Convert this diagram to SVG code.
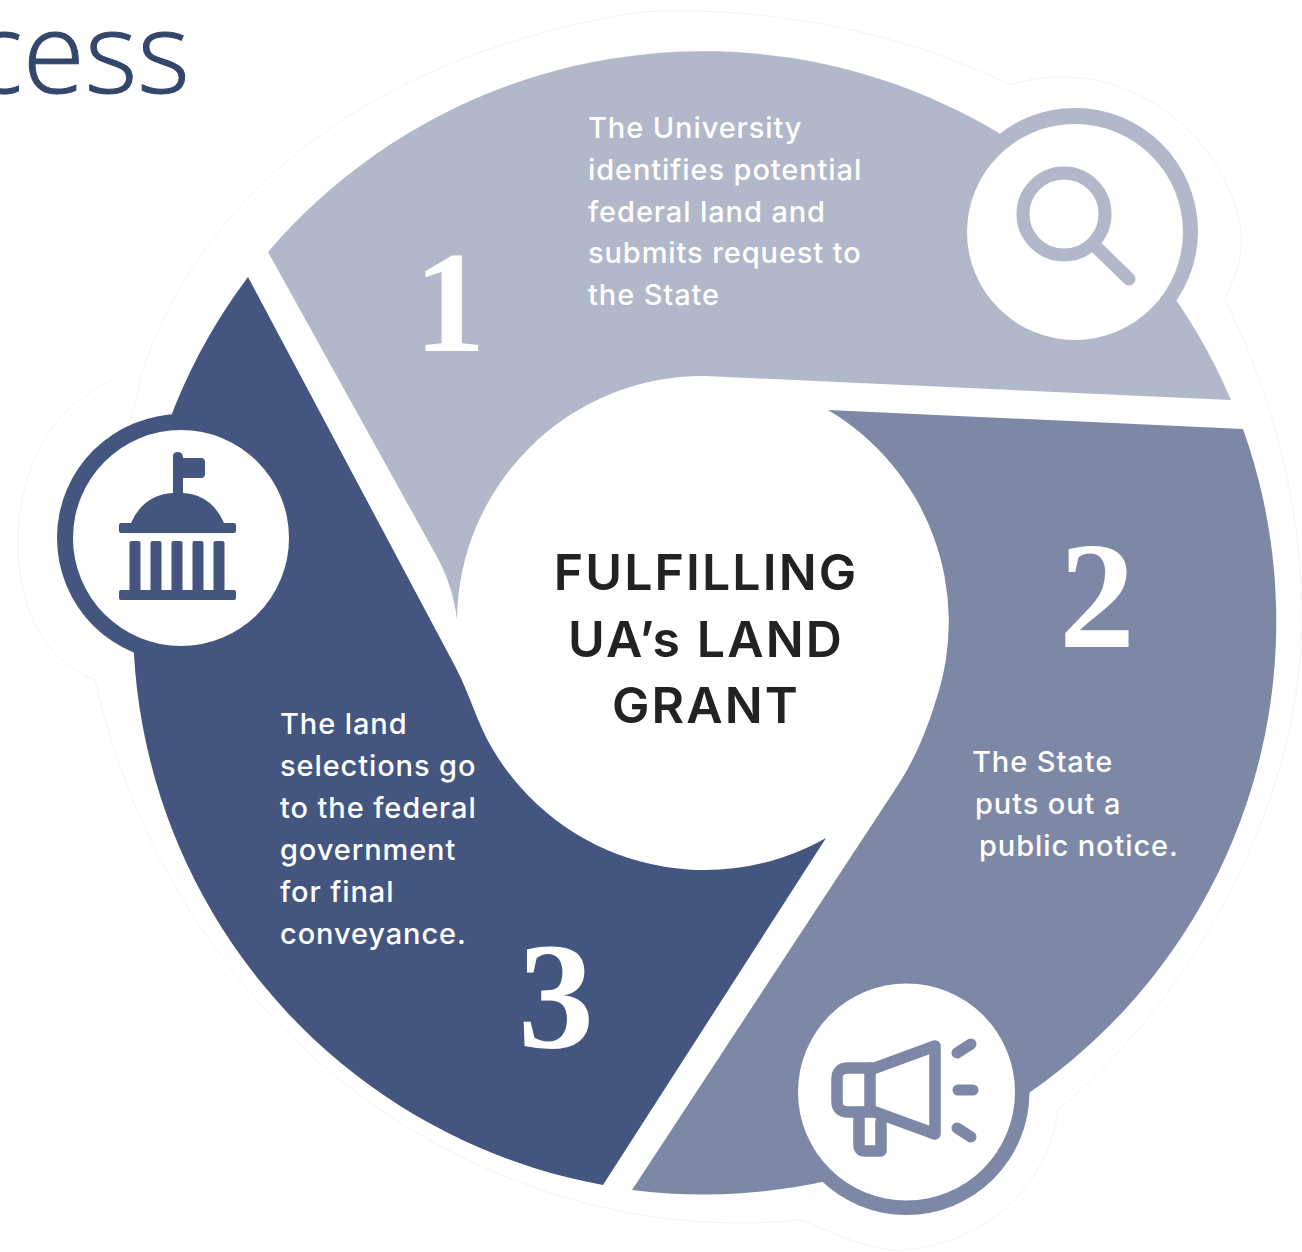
<svg xmlns="http://www.w3.org/2000/svg" width="1302" height="1252" viewBox="0 0 1302 1252">
<style>
.body{font-family:"Inter","Liberation Sans",sans-serif;font-size:29px;font-weight:500;letter-spacing:.9px;fill:#fff}
.num{font-family:"Liberation Serif",serif;font-weight:700;fill:#fff}
.center{font-family:"Inter","Liberation Sans",sans-serif;font-size:50px;font-weight:600;letter-spacing:2.1px;fill:#222;text-anchor:middle}
.hole{fill:#fff}
</style>
<rect width="1302" height="1252" fill="#fff"/>
<text id="title" x="190" y="93" text-anchor="end" font-family="'Open Sans','Noto Sans',sans-serif" font-weight="300" font-size="113" fill="#33466b" stroke="#33466b" stroke-width="1">cess</text>
<path id="halo" d="M112,462 C135,415 138,392 140,378 C190,220 340,60 640,12 C760,5 900,30 1010,85 C1100,55 1210,110 1238,215 C1250,265 1225,290 1225,300 C1270,390 1302,500 1302,620 C1300,800 1200,990 1058,1110 C1050,1180 990,1245 900,1250 C860,1250 820,1225 800,1220 C500,1250 180,1050 95,680 C40,660 15,600 18,530 C25,440 70,400 112,380" fill="none" stroke="#f3f3f3" stroke-width="1"/>
<g id="step-1">
<path fill="#b1b8c9" d="M268,252 A573,573 0 0 1 1231,400 L705,376 A246,246 0 0 0 457,620 C454,595 447,575 436,555 Z"/>
<circle cx="1075" cy="231" r="123" fill="#b1b8c9"/>
<circle class="hole" cx="1075" cy="232" r="108"/>
<g fill="none" stroke="#b1b8c9" stroke-width="13">
<circle cx="1064" cy="214" r="41"/>
<path d="M1094,245 L1129,279" stroke-linecap="round"/>
</g>
<text class="num" font-size="143" x="414" y="351">1</text>
<text class="body"><tspan x="588" y="138">The University</tspan><tspan x="588" y="179.800">identifies potential</tspan><tspan x="588" y="221.600">federal land and</tspan><tspan x="588" y="263.400">submits request to</tspan><tspan x="588" y="305.200">the State</tspan></text>
</g>
<g id="step-2">
<path fill="#7d88a6" d="M828,410 L1243,429 A573,573 0 0 1 632,1190 L900,782 C915,758 927,730 936,700 A246,246 0 0 0 828,410 Z"/>
<circle cx="906.500" cy="1092" r="123" fill="#7d88a6"/>
<circle class="hole" cx="906.500" cy="1092" r="108.500"/>
<g fill="none" stroke="#7d88a6" stroke-width="11.500" stroke-linejoin="round" stroke-linecap="round">
<path d="M875,1068 L935,1046 V1134 L875,1112 H848 Q837,1112 837,1101 V1079 Q837,1068 848,1068 Z"/>
<path d="M870,1068 V1112"/>
<path d="M859,1112 V1145 Q859,1151 865,1151 H881 V1122"/>
<path d="M957,1053 L971,1044 M958,1090 H973 M957,1128 L971,1137" stroke-width="11"/>
</g>
<text class="num" font-size="152" x="1059" y="647">2</text>
<text class="body"><tspan x="972" y="772">The State</tspan><tspan x="975" y="814">puts out a</tspan><tspan x="979" y="855.500">public notice.</tspan></text>
</g>
<g id="step-3">
<path fill="#445680" d="M248,277 L456,668 C470,695 478,725 492,748 A246,246 0 0 0 826,838 L603,1185 A573,573 0 0 1 248,277 Z"/>
<circle cx="181" cy="538" r="124" fill="#445680"/>
<circle class="hole" cx="181" cy="538" r="108"/>
<g fill="#445680">
<path d="M173,456 Q173,452 178,452 Q183,452 183,458 H201 Q205,458 205,462 V474 Q205,478 201,478 H183 V493 Q212,495 224,523 H131 Q143,495 173,493 Z"/>
<rect x="119" y="523" width="117" height="10" rx="2"/>
<rect x="129.500" y="541" width="11" height="52" rx="2"/>
<rect x="150.500" y="541" width="11" height="52" rx="2"/>
<rect x="171.500" y="541" width="11" height="52" rx="2"/>
<rect x="192.500" y="541" width="11" height="52" rx="2"/>
<rect x="213.500" y="541" width="11" height="52" rx="2"/>
<rect x="119" y="590" width="117" height="10" rx="2"/>
</g>
<text class="num" font-size="152" x="518" y="1048">3</text>
<text class="body"><tspan x="280" y="734">The land</tspan><tspan x="280" y="776">selections go</tspan><tspan x="280" y="818">to the federal</tspan><tspan x="280" y="860">government</tspan><tspan x="280" y="902">for final</tspan><tspan x="280" y="943.500">conveyance.</tspan></text>
</g>
<g id="center">
<text class="center"><tspan x="706" y="590">FULFILLING</tspan><tspan x="706" y="657">UA’s LAND</tspan><tspan x="706" y="723">GRANT</tspan></text>
</g>
</svg>
